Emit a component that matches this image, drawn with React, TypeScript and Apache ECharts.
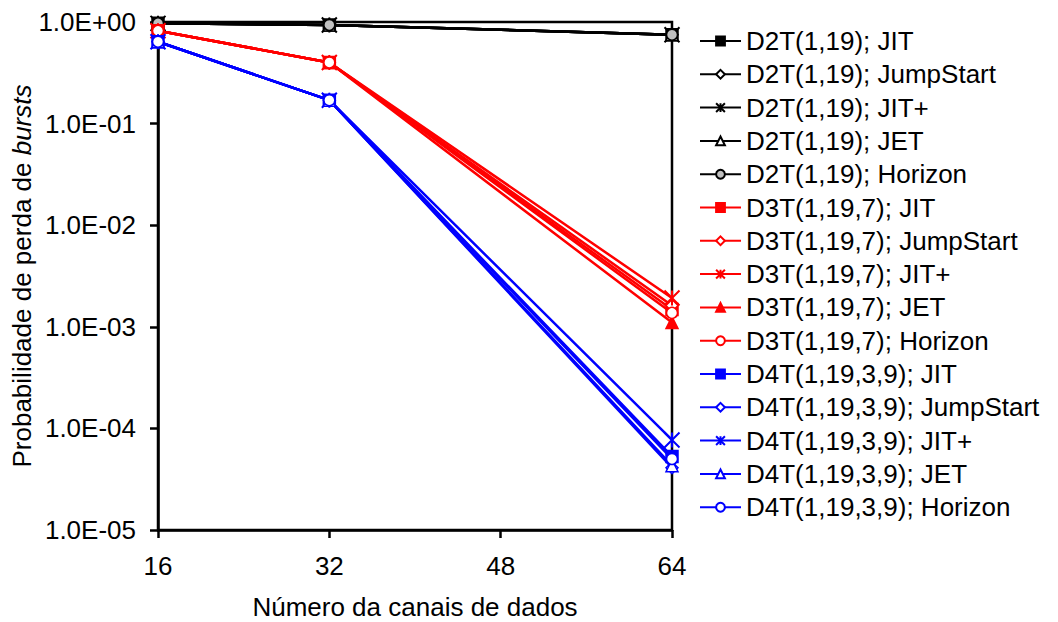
import React, { useEffect, useRef } from "react";
import * as echarts from "echarts";

const channels = [16, 32, 64];
const xTicks = [16, 32, 48, 64];

const d2tJIT = [0.97, 0.935, 0.75];
const d2tJumpStart = [0.97, 0.935, 0.75];
const d2tJITPlus = [0.97, 0.935, 0.75];
const d2tJET = [0.97, 0.935, 0.75];
const d2tHorizon = [0.97, 0.935, 0.75];

const d3tJIT = [0.82, 0.4, 1.48e-3];
const d3tJumpStart = [0.82, 0.4, 1.62e-3];
const d3tJITPlus = [0.82, 0.4, 1.92e-3];
const d3tJET = [0.82, 0.4, 1.1e-3];
const d3tHorizon = [0.82, 0.4, 1.37e-3];

const d4tJIT = [0.64, 0.17, 5.3e-5];
const d4tJumpStart = [0.64, 0.17, 4.1e-5];
const d4tJITPlus = [0.64, 0.17, 7.7e-5];
const d4tJET = [0.64, 0.17, 4.3e-5];
const d4tHorizon = [0.64, 0.17, 5.0e-5];

const ASTERISK = "path://M0,0L10,10M10,0L0,10M5,0L5,10";
const FONT = "'Liberation Sans', Arial, sans-serif";
const FS = 26;

type Mk = { symbol: string; size: number; fill: string };

function makeSeries(name: string, values: number[], color: string, mk: Mk) {
  return {
    name,
    type: "line",
    data: channels.map((c, i) => [c, values[i]]),
    symbol: mk.symbol,
    symbolSize: mk.size,
    lineStyle: { color, width: 2.5 },
    itemStyle: { color: mk.fill, borderColor: color, borderWidth: mk.symbol === ASTERISK ? 2 : 1.5 },
    emphasis: { disabled: true },
  };
}

function markers(color: string, jetFilled: boolean, horizonFill: string): Mk[] {
  return [
    { symbol: "rect", size: 12, fill: color },
    { symbol: "diamond", size: 12, fill: "#fff" },
    { symbol: ASTERISK, size: 15, fill: color },
    { symbol: "triangle", size: 12, fill: jetFilled ? color : "#fff" },
    { symbol: "circle", size: 11, fill: horizonFill },
  ];
}

const methods = ["JIT", "JumpStart", "JIT+", "JET", "Horizon"];

function fmtExp(v: number) {
  const e = Math.round(Math.log10(v));
  const s = e < 0 ? "-" : "+";
  const a = Math.abs(e);
  return "1.0E" + s + (a < 10 ? "0" + a : "" + a);
}

export default function App() {
  const ref = useRef<HTMLDivElement>(null);
  useEffect(() => {
    if (!ref.current) return;
    const chart = echarts.init(ref.current, undefined, { renderer: "svg" });
    const groups = [
      { label: "D2T(1,19)", color: "#000", data: [d2tJIT, d2tJumpStart, d2tJITPlus, d2tJET, d2tHorizon], mk: markers("#000", false, "#c0c0c0") },
      { label: "D3T(1,19,7)", color: "#ff0000", data: [d3tJIT, d3tJumpStart, d3tJITPlus, d3tJET, d3tHorizon], mk: markers("#ff0000", true, "#fff") },
      { label: "D4T(1,19,3,9)", color: "#0000ff", data: [d4tJIT, d4tJumpStart, d4tJITPlus, d4tJET, d4tHorizon], mk: markers("#0000ff", false, "#fff") },
    ];
    const series: any[] = [];
    groups.forEach((g) => {
      g.data.forEach((vals, i) => {
        series.push(makeSeries(g.label + "; " + methods[i], vals, g.color, g.mk[i]));
      });
    });
    chart.setOption({
      animation: false,
      textStyle: { fontFamily: FONT },
      grid: {
        left: 158,
        right: 386,
        top: 22,
        bottom: 92,
        outerBoundsMode: "none",
        containLabel: false,
        show: true,
        borderColor: "#000",
        borderWidth: 2.5,
      },
      legend: {
        orient: "vertical",
        left: 699,
        top: 28,
        padding: 0,
        itemWidth: 41,
        itemHeight: 11,
        itemGap: 7.3,
        textStyle: { fontSize: FS, color: "#000", fontFamily: FONT },
        data: series.map((s) => s.name),
      },
      xAxis: {
        type: "value",
        min: 16,
        max: 64,
        interval: 16,
        name: "Número da canais de dados",
        nameLocation: "middle",
        nameGap: 64,
        nameTextStyle: { fontSize: FS, color: "#000", fontFamily: FONT },
        axisLine: { lineStyle: { color: "#000", width: 2.5 } },
        axisTick: { show: true, length: 8, lineStyle: { color: "#000", width: 2.5 } },
        axisLabel: {
          fontSize: FS,
          color: "#000",
          fontFamily: FONT,
          margin: 23,
          customValues: xTicks,
        },
        splitLine: { show: false },
      },
      yAxis: {
        type: "log",
        logBase: 10,
        min: 1e-5,
        max: 1,
        name: "Probabilidade de perda de {i|bursts}",
        nameLocation: "middle",
        nameGap: 123,
        nameTextStyle: {
          fontSize: FS,
          color: "#000",
          fontFamily: FONT,
          rich: { i: { fontStyle: "italic", fontSize: FS, color: "#000", fontFamily: FONT } },
        },
        axisLine: { show: true, lineStyle: { color: "#000", width: 2.5 } },
        axisTick: { show: true, length: 8, lineStyle: { color: "#000", width: 2.5 } },
        axisLabel: {
          fontSize: FS,
          color: "#000",
          fontFamily: FONT,
          margin: 22,
          formatter: (v: number) => fmtExp(v),
        },
        minorTick: { show: false },
        splitLine: { show: false },
      },
      series,
    });
    return () => chart.dispose();
  }, []);
  return (
    <div
      ref={ref}
      style={{ position: "absolute", left: 0, top: 0, width: 1058, height: 622 }}
    />
  );
}
